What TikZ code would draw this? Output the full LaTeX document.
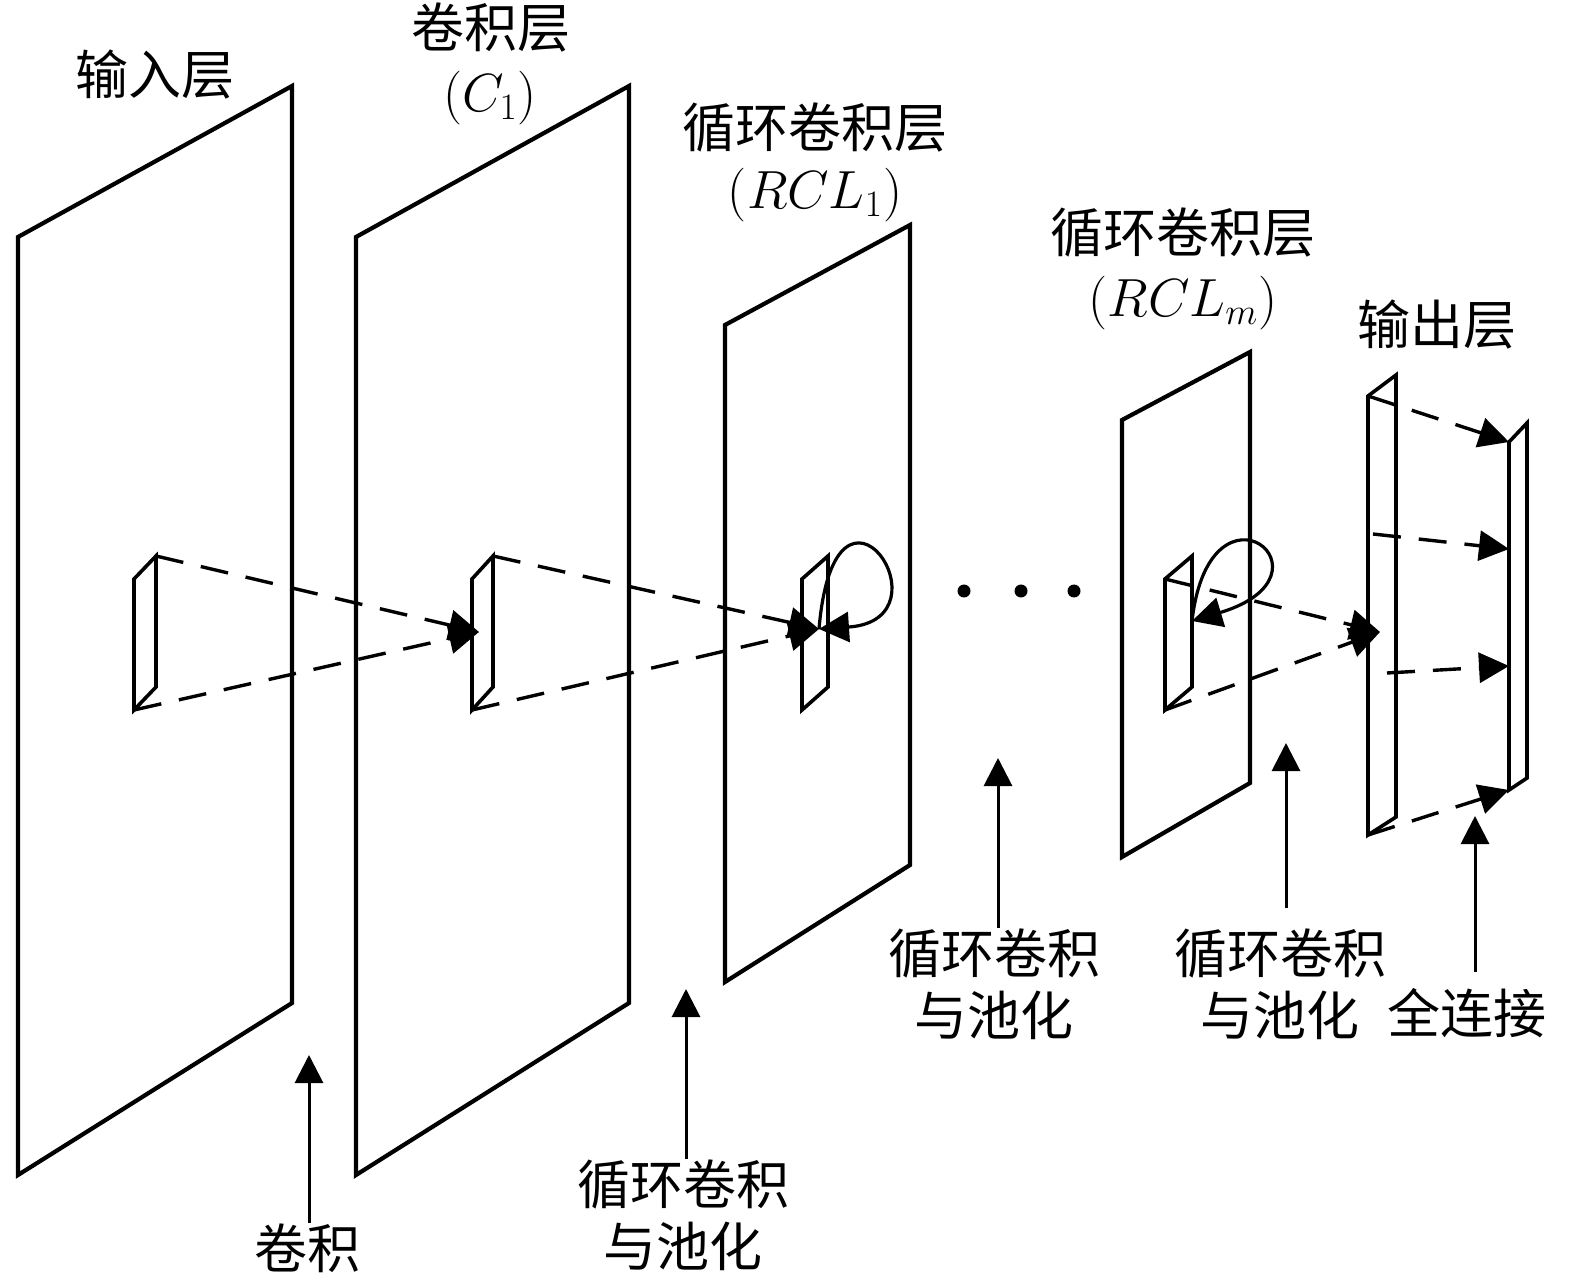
\documentclass[tikz,border=0pt]{standalone}
\usepackage{fontspec}
\usepackage{graphicx}
\newfontfamily\cjkfont{Noto Sans CJK SC}
\usepackage{tikz}
\usetikzlibrary{arrows.meta}
\newcommand*{\rcl}[1][]{\scalebox{1.08}{\ensuremath{(RCL_{#1})}}}

\begin{document}
\begin{tikzpicture}[x=0.5pt, y=-0.5pt]
      \useasboundingbox (0,0) rectangle (1575,1283);
      \tikzstyle{plane}=[line width=2.1pt]
      \tikzstyle{patch}=[line width=1.8pt]
      \tikzstyle{proj}=[line width=1.7pt, dash pattern=on 14pt off 9pt, -{Triangle[length=15pt,width=15pt]}]
      \tikzstyle{recur}=[line width=1.6pt, -{Triangle[length=15pt,width=15pt]}]
      \tikzstyle{up}=[line width=1.5pt, -{Triangle[length=14pt,width=14pt]}]

      {\tikzstyle{every node}=[font=\cjkfont\fontsize{26.5}{31}\selectfont, align=center, inner sep=0pt]
        \node (tin) at (155,75) {输入层};
        \node (tconv) at (491,28) {卷积层};
        \node (tconvm) at (490,98) {\scalebox{1.08}{$(C_1)$}};
        \node (trcla) at (815,128) {循环卷积层};
        \node (trclam) at (815,195) {\rcl[1]};
        \node (trclb) at (1183,233) {循环卷积层};
        \node (trclbm) at (1183,303) {\rcl[m]};
        \node (tout) at (1437,325) {输出层};

        \node (bconv) at (307,1248) {卷积};
        \node (brcla) at (683,1215) {循环卷积\\与池化};
        \node (brclb) at (994,984) {循环卷积\\与池化};
        \node (brclm) at (1280,984) {循环卷积\\与池化};
        \node (bfull) at (1467,1013) {全连接};
      }

      \draw[plane] (18,237) -- (292,86) -- (292,1003) -- (18,1175) -- cycle;
      \draw[plane] (356,237) -- (629,86) -- (629,1003) -- (356,1175) -- cycle;
      \draw[plane] (725,325) -- (910,225) -- (910,865) -- (725,982) -- cycle;
      \draw[plane] (1122,420) -- (1250,352) -- (1250,783) -- (1122,857) -- cycle;

      \foreach \n/\x/\w in {inp/134/22, conv/472/21, rcla/802/26, rclm/1165/27}
      {
        \draw[patch] (\x,579) coordinate (\n-a) -- ++(\w,-23) coordinate (\n-b)
          -- ++(0,131) coordinate (\n-c) -- (\x,710) coordinate (\n-d) -- cycle;
      }

      \draw[patch] (1368,396) coordinate (outa-a) -- (1396,375) -- (1396,817)
        -- (1368,835) coordinate (outa-d) -- cycle;
      \draw[patch] (1509,442) coordinate (outb-a) -- (1527,423) -- (1527,778)
        -- (1509,790) coordinate (outb-d) -- cycle;

      \coordinate (conv-m) at (479,632);
      \coordinate (rcla-m) at (819,629);
      \coordinate (rclm-m) at (1192,621);
      \coordinate (outa-m) at (1380,632);
      \coordinate (fa) at (1373,534);
      \coordinate (fb) at (1509,549);
      \coordinate (fc) at (1387,673);
      \coordinate (fd) at (1509,666);

      \draw[proj] (inp-b) -- (conv-m);
      \draw[proj] (inp-d) -- (conv-m);
      \draw[proj] (conv-b) -- (rcla-m);
      \draw[proj] (conv-d) -- (rcla-m);
      \draw[proj] (rclm-a) -- (outa-m);
      \draw[proj] (rclm-d) -- (outa-m);
      \draw[proj] (outa-a) -- (outb-a);
      \draw[proj] (fa) -- (fb);
      \draw[proj] (fc) -- (fd);
      \draw[proj] (outa-d) -- (outb-d);

      \draw[recur] (rcla-m) .. controls (835,440) and (955,620) .. (rcla-m);
      \draw[recur] (rclm-m) .. controls (1210,465) and (1345,575) .. (rclm-m);

      \foreach \x in {964, 1021, 1074}
        \fill (\x,591) circle (6.5);

      \coordinate (cvtip) at (309,1055);
      \coordinate (ratip) at (686,989);
      \coordinate (rbtip) at (998,758);
      \coordinate (rmtip) at (1286,743);
      \coordinate (fltip) at (1475,816);

      \draw[up] (bconv.north -| cvtip) -- (cvtip);
      \draw[up] (brcla.north -| ratip) -- (ratip);
      \draw[up] (brclb.north -| rbtip) -- (rbtip);
      \draw[up] ([yshift=10pt]brclm.north -| rmtip) -- (rmtip);
      \draw[up] ([yshift=8pt]bfull.north -| fltip) -- (fltip);
    \end{tikzpicture}
\end{document}
